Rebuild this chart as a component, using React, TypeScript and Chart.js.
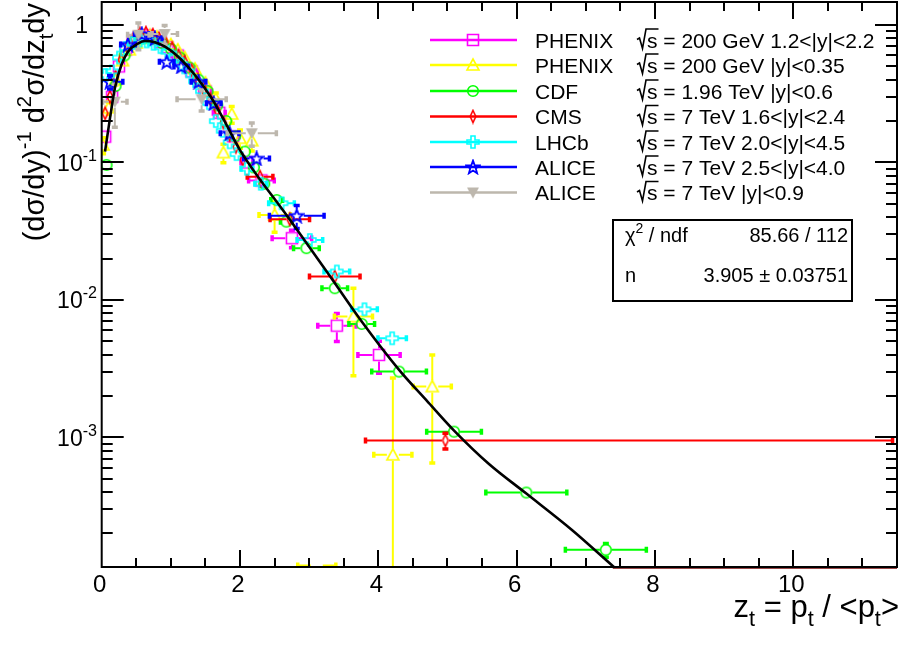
import { useEffect, useRef } from "react";
import { Chart, registerables } from "chart.js";

Chart.register(...registerables);

// ---- axis ranges and tick labels ----
const X_MIN = 0;
const X_MAX = 11.5;
const Y_MIN = 1.14e-4;
const Y_MAX = 1.47;
const xTickValues = [0, 2, 4, 6, 8, 10];
const xTickLabels = ["0", "2", "4", "6", "8", "10"];
const yTickValues = [1, 0.1, 0.01, 0.001];
const yTickExponents = ["", "-1", "-2", "-3"];

// ---- PHENIX sqrt(s)=200 GeV, 1.2<|y|<2.2 ----
const phenixFwdX = [0.05, 0.15, 0.25, 0.35, 0.45, 0.55, 0.65, 0.75, 0.85, 0.95, 1.1, 1.3, 1.5, 1.7, 1.9, 2.1, 2.31, 2.75, 3.4, 4.01];
const phenixFwdY = [0.154, 0.3, 0.5, 0.66, 0.76, 0.82, 0.84, 0.8, 0.75, 0.69, 0.6, 0.46, 0.33, 0.23, 0.155, 0.1, 0.074, 0.0281, 0.0065, 0.00398];
const phenixFwdEx = [0.05, 0.05, 0.05, 0.05, 0.05, 0.05, 0.05, 0.05, 0.05, 0.05, 0.1, 0.1, 0.1, 0.1, 0.1, 0.1, 0.2, 0.3, 0.29, 0.32];
const phenixFwdEy = [0.015, 0.025, 0.04, 0.05, 0.06, 0.06, 0.06, 0.06, 0.055, 0.05, 0.045, 0.035, 0.027, 0.02, 0.014, 0.01, 0.008, 0.0045, 0.0016, 0.0011];

// ---- PHENIX sqrt(s)=200 GeV, |y|<0.35 ----
const phenixMidX = [0.02, 0.1, 0.2, 0.3, 0.4, 0.5, 0.6, 0.7, 0.8, 0.9, 1.0, 1.1, 1.2, 1.35, 1.5, 1.65, 1.76, 1.88, 2.0, 2.17, 2.5, 3.11, 3.64, 4.21, 4.78];
const phenixMidY = [0.134, 0.25, 0.4, 0.55, 0.66, 0.74, 0.8, 0.84, 0.82, 0.78, 0.72, 0.66, 0.58, 0.48, 0.38, 0.29, 0.118, 0.225, 0.15, 0.144, 0.0415, 0.0001, 0.00756, 0.000746, 0.00234];
const phenixMidEx = [0.04, 0.04, 0.04, 0.04, 0.04, 0.04, 0.04, 0.04, 0.04, 0.04, 0.04, 0.04, 0.05, 0.05, 0.05, 0.05, 0.05, 0.05, 0.05, 0.05, 0.24, 0.29, 0.29, 0.29, 0.29];
const phenixMidEy = [0.02, 0.03, 0.04, 0.05, 0.06, 0.07, 0.07, 0.08, 0.08, 0.07, 0.07, 0.06, 0.06, 0.05, 0.04, 0.035, 0.02, 0.035, 0.025, 0.025, 0.011, 0.00001, 0.0048, 0.002, 0.0017];

// ---- CDF sqrt(s)=1.96 TeV, |y|<0.6 ----
const cdfX = [0.07, 0.2, 0.33, 0.46, 0.6, 0.73, 0.87, 1.0, 1.13, 1.27, 1.4, 1.53, 1.67, 1.8, 1.93, 2.07, 2.2, 2.35, 2.53, 2.67, 2.96, 3.37, 3.76, 4.3, 5.095, 6.14, 7.29];
const cdfY = [0.096, 0.36, 0.6, 0.75, 0.8, 0.79, 0.74, 0.67, 0.58, 0.49, 0.4, 0.33, 0.26, 0.2, 0.155, 0.12, 0.092, 0.07, 0.0533, 0.0371, 0.0238, 0.01216, 0.00669, 0.00301, 0.0011, 0.000397, 0.000152];
const cdfEx = [0.05, 0.06, 0.06, 0.06, 0.06, 0.06, 0.06, 0.06, 0.06, 0.06, 0.06, 0.06, 0.06, 0.06, 0.06, 0.06, 0.06, 0.06, 0.1, 0.1, 0.2, 0.2, 0.2, 0.41, 0.41, 0.6, 0.6];
const cdfEy = [0.006, 0.015, 0.02, 0.02, 0.02, 0.02, 0.02, 0.02, 0.02, 0.015, 0.012, 0.01, 0.008, 0.006, 0.005, 0.004, 0.003, 0.0025, 0.002, 0.0015, 0.001, 0.0005, 0.0003, 0.00015, 0.00006, 0.00003, 0.00002];

// ---- CMS sqrt(s)=7 TeV, 1.6<|y|<2.4 ----
const cmsX = [0.05, 0.12, 0.2, 0.28, 0.37, 0.46, 0.55, 0.64, 0.74, 0.83, 0.92, 1.02, 1.11, 1.2, 1.3, 1.39, 1.48, 1.57, 1.67, 1.76, 1.85, 1.94, 2.04, 2.29, 2.72, 3.37, 4.97];
const cmsY = [0.228, 0.3, 0.42, 0.56, 0.7, 0.8, 0.87, 0.88, 0.85, 0.8, 0.75, 0.68, 0.6, 0.54, 0.47, 0.4, 0.34, 0.29, 0.24, 0.195, 0.158, 0.13, 0.105, 0.0788, 0.0386, 0.0148, 0.00095];
const cmsExLow = [0.04, 0.04, 0.04, 0.04, 0.04, 0.04, 0.04, 0.04, 0.04, 0.04, 0.04, 0.04, 0.04, 0.04, 0.04, 0.04, 0.04, 0.04, 0.04, 0.04, 0.04, 0.04, 0.04, 0.2, 0.3, 0.38, 1.17];
const cmsExHigh = [0.04, 0.04, 0.04, 0.04, 0.04, 0.04, 0.04, 0.04, 0.04, 0.04, 0.04, 0.04, 0.04, 0.04, 0.04, 0.04, 0.04, 0.04, 0.04, 0.04, 0.04, 0.04, 0.04, 0.2, 0.3, 0.38, 6.48];
const cmsEy = [0.02, 0.025, 0.03, 0.04, 0.05, 0.06, 0.06, 0.06, 0.06, 0.055, 0.05, 0.05, 0.045, 0.04, 0.035, 0.03, 0.025, 0.02, 0.018, 0.015, 0.012, 0.01, 0.008, 0.006, 0.003, 0.0012, 0.00014];

// ---- LHCb sqrt(s)=7 TeV, 2.0<|y|<4.5 ----
const lhcbX = [0.05, 0.15, 0.25, 0.35, 0.45, 0.55, 0.65, 0.75, 0.85, 0.95, 1.05, 1.15, 1.25, 1.35, 1.45, 1.55, 1.65, 1.75, 1.85, 1.95, 2.1, 2.3, 2.6, 3.01, 3.4, 3.8, 4.2];
const lhcbY = [0.433, 0.46, 0.58, 0.68, 0.74, 0.77, 0.76, 0.73, 0.69, 0.64, 0.58, 0.52, 0.46, 0.39, 0.33, 0.27, 0.2, 0.17, 0.14, 0.115, 0.09, 0.07, 0.0505, 0.0273, 0.0161, 0.00855, 0.00526];
const lhcbEx = [0.05, 0.05, 0.05, 0.05, 0.05, 0.05, 0.05, 0.05, 0.05, 0.05, 0.05, 0.05, 0.05, 0.05, 0.05, 0.05, 0.05, 0.05, 0.05, 0.05, 0.1, 0.1, 0.2, 0.2, 0.2, 0.2, 0.22];
const lhcbEy = [0.02, 0.02, 0.025, 0.03, 0.03, 0.03, 0.03, 0.03, 0.03, 0.025, 0.025, 0.02, 0.02, 0.015, 0.013, 0.011, 0.008, 0.007, 0.006, 0.005, 0.004, 0.003, 0.002, 0.0012, 0.0008, 0.0005, 0.0003];

// ---- ALICE sqrt(s)=7 TeV, 2.5<|y|<4.0 ----
const aliceFwdX = [0.12, 0.38, 0.58, 0.77, 0.94, 1.15, 1.4, 1.62, 1.85, 2.24, 2.82];
const aliceFwdY = [0.387, 0.72, 0.86, 0.8, 0.54, 0.5, 0.387, 0.27, 0.163, 0.107, 0.041];
const aliceFwdEx = [0.2, 0.12, 0.12, 0.12, 0.12, 0.12, 0.12, 0.12, 0.15, 0.2, 0.41];
const aliceFwdEy = [0.05, 0.06, 0.07, 0.06, 0.04, 0.04, 0.03, 0.02, 0.015, 0.01, 0.0085];

// ---- ALICE sqrt(s)=7 TeV, |y|<0.9 ----
const aliceMidX = [0.19, 0.53, 0.91, 1.445, 2.17];
const aliceMidY = [0.277, 0.85, 0.86, 0.288, 0.163];
const aliceMidEx = [0.19, 0.17, 0.2, 0.37, 0.37];
const aliceMidEy = [0.1, 0.2, 0.15, 0.055, 0.034];

// ---- fitted curve ----
const fitX = [0.048, 0.12, 0.19, 0.285, 0.38, 0.53, 0.626, 0.77, 0.915, 1.107, 1.348, 1.59, 1.78, 2.0, 2.692, 3.299, 3.757, 4.3, 4.7, 5.095, 5.6, 6.14, 6.8, 7.39, 7.6];
const fitY = [0.12, 0.21, 0.347, 0.512, 0.64, 0.736, 0.765, 0.748, 0.695, 0.588, 0.433, 0.293, 0.198, 0.123, 0.0401, 0.01495, 0.007, 0.0031, 0.00185, 0.00112, 0.00064, 0.00039, 0.000212, 0.000116, 0.000094];

const FONT = '"Liberation Sans", Arial, sans-serif';

type MarkerKind = "square" | "triUp" | "circle" | "diamond" | "cross" | "star" | "triDown";

interface SeriesDef {
  name: string;
  energy: string;
  color: string;
  marker: MarkerKind;
  x: number[];
  y: number[];
  exl: number[];
  exh: number[];
  ey: number[];
}

const seriesDefs: SeriesDef[] = [
  { name: "PHENIX", energy: " = 200 GeV 1.2<|y|<2.2", color: "#ff00ff", marker: "square", x: phenixFwdX, y: phenixFwdY, exl: phenixFwdEx, exh: phenixFwdEx, ey: phenixFwdEy },
  { name: "PHENIX", energy: " = 200 GeV |y|<0.35", color: "#ffff00", marker: "triUp", x: phenixMidX, y: phenixMidY, exl: phenixMidEx, exh: phenixMidEx, ey: phenixMidEy },
  { name: "CDF", energy: " = 1.96 TeV |y|<0.6", color: "#00ff00", marker: "circle", x: cdfX, y: cdfY, exl: cdfEx, exh: cdfEx, ey: cdfEy },
  { name: "CMS", energy: " = 7 TeV 1.6<|y|<2.4", color: "#ff0000", marker: "diamond", x: cmsX, y: cmsY, exl: cmsExLow, exh: cmsExHigh, ey: cmsEy },
  { name: "LHCb", energy: " = 7 TeV 2.0<|y|<4.5", color: "#00ffff", marker: "cross", x: lhcbX, y: lhcbY, exl: lhcbEx, exh: lhcbEx, ey: lhcbEy },
  { name: "ALICE", energy: " = 7 TeV 2.5<|y|<4.0", color: "#0000ff", marker: "star", x: aliceFwdX, y: aliceFwdY, exl: aliceFwdEx, exh: aliceFwdEx, ey: aliceFwdEy },
  { name: "ALICE", energy: " = 7 TeV |y|<0.9", color: "#bdb7ad", marker: "triDown", x: aliceMidX, y: aliceMidY, exl: aliceMidEx, exh: aliceMidEx, ey: aliceMidEy },
];

// half-size of each marker (x, y) where error bars stop
const markerGap: Record<MarkerKind, [number, number]> = {
  square: [6.5, 6.5],
  triUp: [6, 6],
  circle: [6, 6],
  diamond: [3.5, 6.5],
  cross: [6.5, 6.5],
  star: [7, 7],
  triDown: [6, 6],
};

// marker images shared by the data points and the legend
let legendMarkers: HTMLCanvasElement[] = [];

function makeMarker(kind: MarkerKind, color: string): HTMLCanvasElement {
  const cv = document.createElement("canvas");
  cv.width = 16;
  cv.height = 16;
  const c = cv.getContext("2d")!;
  c.strokeStyle = color;
  c.fillStyle = color;
  c.lineWidth = 1.6;
  c.lineJoin = "miter";
  c.beginPath();
  if (kind === "square") {
    c.rect(2.5, 2.5, 11, 11);
    c.stroke();
  } else if (kind === "triUp") {
    c.moveTo(8, 2);
    c.lineTo(14, 13);
    c.lineTo(2, 13);
    c.closePath();
    c.stroke();
  } else if (kind === "circle") {
    c.arc(8, 8, 5.3, 0, Math.PI * 2);
    c.stroke();
  } else if (kind === "diamond") {
    c.moveTo(8, 2);
    c.lineTo(10.8, 8);
    c.lineTo(8, 14);
    c.lineTo(5.2, 8);
    c.closePath();
    c.stroke();
  } else if (kind === "cross") {
    const pts = [
      [6, 2], [10, 2], [10, 6], [14, 6], [14, 10], [10, 10],
      [10, 14], [6, 14], [6, 10], [2, 10], [2, 6], [6, 6],
    ];
    pts.forEach(([px, py], i) => (i ? c.lineTo(px, py) : c.moveTo(px, py)));
    c.closePath();
    c.stroke();
  } else if (kind === "star") {
    for (let i = 0; i < 10; i++) {
      const r = i % 2 === 0 ? 7 : 2.9;
      const a = -Math.PI / 2 + (i * Math.PI) / 5;
      const px = 8 + r * Math.cos(a);
      const py = 8.6 + r * Math.sin(a);
      if (i) c.lineTo(px, py);
      else c.moveTo(px, py);
    }
    c.closePath();
    c.lineWidth = 1.8;
    c.stroke();
  } else if (kind === "triDown") {
    c.moveTo(2, 3);
    c.lineTo(14, 3);
    c.lineTo(8, 14);
    c.closePath();
    c.fill();
  }
  return cv;
}

type Part = [string, number];

function drawRich(ctx: CanvasRenderingContext2D, parts: Part[], x: number, y: number, size: number, align: "left" | "right" | "center") {
  const widths = parts.map(([t, k]) => {
    ctx.font = `${k ? size * 0.7 : size}px ${FONT}`;
    return ctx.measureText(t).width;
  });
  const total = widths.reduce((a, b) => a + b, 0);
  let cx = align === "left" ? x : align === "right" ? x - total : x - total / 2;
  ctx.textAlign = "left";
  ctx.textBaseline = "alphabetic";
  parts.forEach(([t, k], i) => {
    ctx.font = `${k ? size * 0.7 : size}px ${FONT}`;
    const dy = k === 1 ? -size * 0.45 : k === -1 ? size * 0.3 : 0;
    ctx.fillText(t, cx, y + dy);
    cx += widths[i];
  });
  return total;
}

const errorBarPlugin = {
  id: "errorBars",
  beforeDatasetDraw(chart: any, args: any) {
    const ds = chart.data.datasets[args.index];
    if (!ds.errs) return;
    const { ctx, chartArea: a } = chart;
    const xs = chart.scales.x;
    const ys = chart.scales.y;
    const [gx, gy] = ds.gap as [number, number];
    ctx.save();
    ctx.beginPath();
    ctx.rect(a.left, a.top, a.right - a.left, a.bottom - a.top);
    ctx.clip();
    ctx.strokeStyle = ds.borderColor;
    ds.data.forEach((p: { x: number; y: number }, i: number) => {
      const cx = xs.getPixelForValue(p.x);
      let cy = ys.getPixelForValue(p.y);
      // points below the range keep their horizontal bar on the lower edge
      if (cy > a.bottom) cy = a.bottom - 1.5;
      const xl = xs.getPixelForValue(p.x - ds.errs.exl[i]);
      const xh = xs.getPixelForValue(p.x + ds.errs.exh[i]);
      const e = ds.errs.ey[i];
      const yh = ys.getPixelForValue(p.y + e);
      const lo = p.y - e;
      const yl = lo > 0 ? ys.getPixelForValue(lo) : a.bottom + 10;
      ctx.lineWidth = 2;
      ctx.beginPath();
      if (xl < cx - gx) {
        ctx.moveTo(xl, cy);
        ctx.lineTo(cx - gx, cy);
      }
      if (xh > cx + gx) {
        ctx.moveTo(cx + gx, cy);
        ctx.lineTo(xh, cy);
      }
      if (yh < cy - gy) {
        ctx.moveTo(cx, yh);
        ctx.lineTo(cx, cy - gy);
      }
      if (yl > cy + gy) {
        ctx.moveTo(cx, cy + gy);
        ctx.lineTo(cx, yl);
      }
      ctx.stroke();
      // end caps
      ctx.lineWidth = 3.5;
      ctx.beginPath();
      if (xl < cx - gx) {
        ctx.moveTo(xl + 1, cy - 3);
        ctx.lineTo(xl + 1, cy + 3);
      }
      if (xh > cx + gx) {
        ctx.moveTo(xh - 1, cy - 3);
        ctx.lineTo(xh - 1, cy + 3);
      }
      if (yh < cy - gy) {
        ctx.moveTo(cx - 3, yh + 1);
        ctx.lineTo(cx + 3, yh + 1);
      }
      if (yl > cy + gy && lo > 0) {
        ctx.moveTo(cx - 3, yl - 1);
        ctx.lineTo(cx + 3, yl - 1);
      }
      ctx.stroke();
    });
    ctx.restore();
  },
};

const framePlugin = {
  id: "rootFrame",
  afterDraw(chart: any) {
    const { ctx, chartArea: a } = chart;
    const xs = chart.scales.x;
    const ys = chart.scales.y;
    ctx.save();

    // fitted curve continues along the lower edge once it leaves the range
    const xEnd = xs.getPixelForValue(fitX[fitX.length - 2]);
    ctx.strokeStyle = "#7a0b0b";
    ctx.lineWidth = 1.2;
    ctx.beginPath();
    ctx.moveTo(xEnd, a.bottom + 1.2);
    ctx.lineTo(a.right, a.bottom + 1.2);
    ctx.stroke();

    // frame
    ctx.strokeStyle = "#000";
    ctx.lineWidth = 2;
    ctx.strokeRect(a.left, a.top, a.right - a.left, a.bottom - a.top);

    // x ticks (inside the frame, bottom and top)
    ctx.lineWidth = 2;
    ctx.beginPath();
    for (let v = 0.5; v < X_MAX; v += 0.5) {
      const px = Math.round(xs.getPixelForValue(v));
      const len = Math.abs(v % 2) < 1e-6 ? 17 : 9;
      ctx.moveTo(px, a.bottom);
      ctx.lineTo(px, a.bottom - len);
      ctx.moveTo(px, a.top);
      ctx.lineTo(px, a.top + len);
    }
    // y ticks (left and right)
    for (let e = -4; e <= 0; e++) {
      for (let k = 1; k <= 9; k++) {
        const v = k * Math.pow(10, e);
        if (v < Y_MIN || v > Y_MAX) continue;
        const py = Math.round(ys.getPixelForValue(v));
        const len = k === 1 ? 22 : 11;
        ctx.moveTo(a.left, py);
        ctx.lineTo(a.left + len, py);
        ctx.moveTo(a.right, py);
        ctx.lineTo(a.right - len, py);
      }
    }
    ctx.stroke();

    ctx.fillStyle = "#000";
    // x tick labels
    ctx.font = `24px ${FONT}`;
    ctx.textAlign = "center";
    ctx.textBaseline = "alphabetic";
    xTickValues.forEach((v, i) => {
      ctx.fillText(xTickLabels[i], xs.getPixelForValue(v) - 2, 592);
    });
    // y tick labels
    yTickValues.forEach((v, i) => {
      const py = ys.getPixelForValue(v);
      if (yTickExponents[i] === "") {
        drawRich(ctx, [["1", 0]], 88, py + 8, 23, "right");
      } else {
        drawRich(ctx, [["10", 0], [yTickExponents[i], 1]], 97, py + 8.5, 23, "right");
      }
    });

    // x axis title
    drawRich(
      ctx,
      [["z", 0], ["t", -1], [" = p", 0], ["t", -1], [" / <p", 0], ["t", -1], [">", 0]],
      a.right + 2,
      617,
      31,
      "right"
    );

    // y axis title (rotated)
    ctx.save();
    ctx.translate(44, 3);
    ctx.rotate(-Math.PI / 2);
    drawRich(
      ctx,
      [["(d\u03c3/dy)", 0], ["-1", 1], [" d", 0], ["2", 1], ["\u03c3/dz", 0], ["t", -1], ["dy", 0]],
      0,
      0,
      29,
      "right"
    );
    ctx.restore();

    // legend
    const rows = [40, 65, 91, 116.5, 142, 167, 192.5];
    seriesDefs.forEach((s, i) => {
      const y = rows[i];
      ctx.strokeStyle = s.color;
      ctx.lineWidth = 2.5;
      ctx.beginPath();
      ctx.moveTo(430, y);
      ctx.lineTo(517, y);
      ctx.stroke();
      if (legendMarkers[i]) ctx.drawImage(legendMarkers[i], 473 - 8, y - 8);
      ctx.fillStyle = "#000";
      ctx.font = `21px ${FONT}`;
      ctx.textAlign = "left";
      ctx.fillText(s.name, 535, y + 7.5);
      // radical sign over s
      const x0 = 637;
      const yb = y + 7.5;
      const sw = ctx.measureText("s").width;
      ctx.strokeStyle = "#000";
      ctx.lineWidth = 1.6;
      ctx.beginPath();
      ctx.moveTo(x0, yb - 8);
      ctx.lineTo(x0 + 2.5, yb - 9.5);
      ctx.lineTo(x0 + 5.5, yb + 1);
      ctx.lineTo(x0 + 9, yb - 18.5);
      ctx.lineTo(x0 + 10 + sw + 1, yb - 18.5);
      ctx.stroke();
      ctx.fillText("s", x0 + 10, yb);
      ctx.fillText(s.energy, x0 + 10 + sw, yb);
    });

    // fit statistics box
    ctx.strokeStyle = "#000";
    ctx.lineWidth = 2;
    ctx.fillStyle = "#fff";
    ctx.fillRect(613, 220, 239, 81);
    ctx.strokeRect(613, 220, 239, 81);
    ctx.fillStyle = "#000";
    drawRich(ctx, [["\u03c7", 0], ["2", 1], [" / ndf", 0]], 625, 242, 20, "left");
    drawRich(ctx, [["85.66 / 112", 0]], 848, 242, 20, "right");
    drawRich(ctx, [["n", 0]], 625, 282, 20, "left");
    drawRich(ctx, [["3.905 \u00b1 0.03751", 0]], 848, 282, 20, "right");

    ctx.restore();
  },
};

export default function App() {
  const canvasRef = useRef<HTMLCanvasElement | null>(null);

  useEffect(() => {
    const canvas = canvasRef.current;
    if (!canvas) return;
    legendMarkers = seriesDefs.map((s) => makeMarker(s.marker, s.color));

    const dataSets: any[] = [
      {
        type: "line",
        label: "fit",
        data: fitX.map((x, i) => ({ x, y: fitY[i] })),
        borderColor: "#000",
        borderWidth: 2.6,
        pointRadius: 0,
        cubicInterpolationMode: "monotone",
        fill: false,
        order: 0,
      },
    ];
    seriesDefs.forEach((s, i) => {
      dataSets.push({
        type: "scatter",
        label: s.name + s.energy,
        data: s.x.map((x, j) => ({ x, y: s.y[j] })),
        borderColor: s.color,
        backgroundColor: s.color,
        pointStyle: legendMarkers[i],
        pointRadius: 8,
        showLine: false,
        clip: 0,
        errs: { exl: s.exl, exh: s.exh, ey: s.ey },
        gap: markerGap[s.marker],
        order: seriesDefs.length - i,
      });
    });

    const chart = new Chart(canvas, {
      type: "scatter",
      data: { datasets: dataSets },
      options: {
        responsive: false,
        animation: false,
        devicePixelRatio: 1,
        events: [],
        layout: { autoPadding: false, padding: { left: 101.7, right: 3, top: 2, bottom: 79 } },
        plugins: { legend: { display: false }, tooltip: { enabled: false } },
        scales: {
          x: { type: "linear", min: X_MIN, max: X_MAX, display: false },
          y: { type: "logarithmic", min: Y_MIN, max: Y_MAX, display: false },
        },
      },
      plugins: [errorBarPlugin, framePlugin],
    } as any);

    return () => chart.destroy();
  }, []);

  return (
    <div style={{ position: "absolute", left: 0, top: 0, width: 900, height: 646, background: "#fff" }}>
      <canvas ref={canvasRef} width={900} height={646} />
    </div>
  );
}
